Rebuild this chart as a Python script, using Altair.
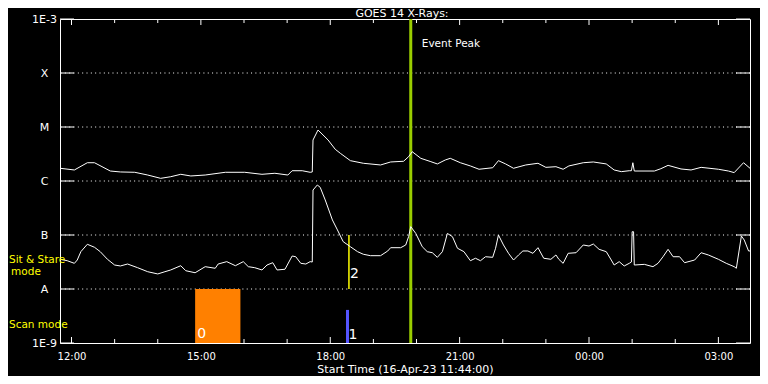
import altair as alt
import pandas as pd

# ---------------- data ----------------
start_time = "11:44"
end_time = "03:44"

long_times = ["11:44","12:04","12:22","12:32","12:54","13:08","13:28","13:46","14:04","14:18",
              "14:32","14:46","15:06","15:34","16:01","16:25","16:43","17:01","17:07","17:21",
              "17:32","17:35","17:36","17:43","17:57","18:07","18:14","18:28","18:46","19:10",
              "19:24","19:42","19:49","19:54","20:06","20:20","20:29","20:40","20:47","21:01",
              "21:15","21:27","21:46","21:54","22:04","22:15","22:32","22:49","23:00","23:14",
              "23:24","23:32","23:52","00:06","00:24","00:35","00:45","00:56","00:59","01:01",
              "01:03","01:31","01:40","01:50","02:08","02:22","02:36","03:00","03:14","03:22",
              "03:35","03:44"]
long_flux = [1.72e-6,1.60e-6,2.18e-6,2.18e-6,1.53e-6,1.47e-6,1.45e-6,1.29e-6,1.12e-6,1.20e-6,
             1.33e-6,1.24e-6,1.29e-6,1.45e-6,1.45e-6,1.33e-6,1.39e-6,1.29e-6,1.55e-6,1.55e-6,
             1.45e-6,1.47e-6,5.74e-6,8.80e-6,5.74e-6,3.86e-6,3.26e-6,2.38e-6,2.13e-6,1.98e-6,
             2.25e-6,2.32e-6,2.82e-6,3.49e-6,2.63e-6,2.28e-6,2.07e-6,2.45e-6,2.63e-6,2.18e-6,
             1.90e-6,1.65e-6,1.76e-6,2.38e-6,2.07e-6,1.72e-6,1.98e-6,2.13e-6,1.79e-6,1.84e-6,
             1.65e-6,1.90e-6,2.18e-6,2.25e-6,2.07e-6,1.60e-6,1.49e-6,1.55e-6,1.55e-6,2.18e-6,
             1.53e-6,1.53e-6,1.69e-6,1.95e-6,1.67e-6,1.60e-6,1.79e-6,1.65e-6,1.53e-6,1.43e-6,
             2.18e-6,1.72e-6]

short_times = ["11:44","11:54","12:04","12:08","12:13","12:22","12:32","12:40","12:50","13:00",
               "13:08","13:18","13:32","13:46","14:00","14:10","14:18","14:32","14:39","14:52",
               "15:06","15:20","15:24","15:36","15:48","15:59","16:06","16:15","16:25","16:32",
               "16:40","16:46","16:57","17:07","17:12","17:19","17:26","17:32","17:35","17:36",
               "17:42","17:46","17:53","18:03","18:10","18:18","18:28","18:38","18:46","18:56",
               "19:10","19:20","19:24","19:38","19:45","19:49","19:52","19:59","20:08","20:15",
               "20:22","20:29","20:36","20:43","20:50","20:57","21:06","21:15","21:22","21:29",
               "21:36","21:46","21:50","21:54","22:01","22:08","22:15","22:22","22:28","22:35",
               "22:42","22:49","22:57","23:07","23:14","23:18","23:24","23:31","23:42","23:52",
               "00:00","00:06","00:14","00:24","00:31","00:35","00:42","00:49","00:56","00:59",
               "01:00","01:02","01:03","01:17","01:29","01:36","01:43","01:50","01:57","02:06",
               "02:13","02:27","02:36","02:46","03:00","03:11","03:22","03:25","03:32","03:36",
               "03:42","03:44"]
short_flux = [3.55e-8,3.34e-8,2.99e-8,3.44e-8,4.91e-8,6.73e-8,5.92e-8,4.91e-8,3.55e-8,2.78e-8,
              2.67e-8,2.90e-8,2.48e-8,2.09e-8,1.90e-8,2.09e-8,2.25e-8,2.70e-8,2.18e-8,2.00e-8,
              2.59e-8,2.42e-8,2.90e-8,3.21e-8,2.70e-8,3.21e-8,2.59e-8,2.48e-8,2.25e-8,2.78e-8,
              3.07e-8,2.25e-8,2.32e-8,4.08e-8,3.96e-8,2.99e-8,2.90e-8,3.21e-8,3.16e-8,6.81e-7,
              8.43e-7,7.64e-7,4.45e-7,1.90e-7,1.24e-7,7.52e-8,6.07e-8,4.91e-8,4.40e-8,4.14e-8,
              4.14e-8,5.06e-8,5.82e-8,5.82e-8,6.53e-8,9.31e-8,1.43e-7,1.07e-7,6.07e-8,4.91e-8,
              4.70e-8,3.86e-8,4.91e-8,1.07e-7,9.31e-8,5.68e-8,4.91e-8,3.34e-8,3.71e-8,3.34e-8,
              3.96e-8,3.86e-8,5.68e-8,1.00e-7,6.53e-8,4.58e-8,3.44e-8,4.27e-8,5.06e-8,5.06e-8,
              4.58e-8,5.82e-8,3.71e-8,3.55e-8,4.27e-8,3.55e-8,2.99e-8,4.58e-8,4.70e-8,6.53e-8,
              6.25e-8,6.81e-8,5.43e-8,4.91e-8,3.44e-8,2.78e-8,3.21e-8,2.67e-8,2.99e-8,3.16e-8,
              1.15e-7,1.15e-7,2.78e-8,2.86e-8,2.59e-8,2.99e-8,3.96e-8,5.43e-8,3.96e-8,3.96e-8,
              3.07e-8,3.44e-8,4.70e-8,4.27e-8,3.55e-8,2.99e-8,2.59e-8,2.42e-8,9.57e-8,8.07e-8,
              5.06e-8,5.06e-8]

level_values = [1e-3, 1e-4, 1e-5, 1e-6, 1e-7, 1e-8, 1e-9]
level_labels = ["1E-3", "X", "M", "C", "B", "A", "1E-9"]
grid_levels = [1e-4, 1e-5, 1e-6, 1e-7, 1e-8]

major_hours = [12, 15, 18, 21, 24, 27]
minor_hours = [13, 14, 16, 17, 19, 20, 22, 23, 25, 26]

event_peak_time = "19:52"
scan0_start, scan0_end = "14:52", "15:55"
scan0_lo, scan0_hi = 1e-9, 1e-8
scan1_time = "18:24"
scan1_lo, scan1_hi = 1e-9, 4.1e-9
stare2_time = "18:26"
stare2_lo, stare2_hi = 1e-8, 1e-7

title_text = "GOES 14 X-Rays:"
x_title = "Start Time (16-Apr-23 11:44:00)"

# ---------------- helpers ----------------
def to_hours(s):
    h, m = (int(p) for p in s.split(":"))
    v = h + m / 60.0
    return v + 24 if v < 11 else v

W, H = 690, 324
FONT = "DejaVu Sans"
ORANGE = "#ff8000"
GREEN = "#9acd00"
BLUE = "#5555ff"
YELLOW = "#ffff00"

xscale = alt.Scale(domain=[to_hours(start_time), to_hours(end_time)], nice=False, zero=False)
yscale = alt.Scale(type="log", domain=[1e-9, 1e-3], nice=False)

ylab_expr = ""
for v, lab in zip(level_values[:-1], level_labels[:-1]):
    ylab_expr += f"datum.value > {v * 0.5:.12f} ? '{lab}' : "
ylab_expr += f"'{level_labels[-1]}'"

xaxis = alt.Axis(values=major_hours,
                 labelExpr="(datum.value % 24 < 10 ? '0' : '') + (datum.value % 24) + ':00'",
                 ticks=False, tickSize=0, domain=False, grid=False,
                 labelColor="white", labelFont=FONT, labelFontSize=10, labelPadding=8,
                 labelFlush=False, title=x_title, titleColor="white", titleFont=FONT,
                 titleFontSize=11, titleFontWeight="normal", titlePadding=2)
yaxis = alt.Axis(values=level_values, labelExpr=ylab_expr,
                 ticks=False, tickSize=0, domain=False, grid=False,
                 labelColor="white", labelFont=FONT, labelFontSize=11, labelAlign="center",
                 labelBaseline="middle", labelPadding=16, labelFlush=False,
                 labelOverlap=False, title=None)

def X(f):
    return alt.X(f, type="quantitative", scale=xscale, axis=xaxis)

def Y(f):
    return alt.Y(f, type="quantitative", scale=yscale, axis=yaxis)

# ---------------- tables ----------------
curves = pd.concat([
    pd.DataFrame({"h": [to_hours(t) for t in long_times], "flux": long_flux, "ch": "long"}),
    pd.DataFrame({"h": [to_hours(t) for t in short_times], "flux": short_flux, "ch": "short"}),
])
levels_df = pd.DataFrame({"v": level_values})
grid_df = pd.DataFrame({"v": grid_levels})
major_df = pd.DataFrame({"h": major_hours})
minor_df = pd.DataFrame({"h": minor_hours})
event_df = pd.DataFrame({"h": [to_hours(event_peak_time)], "t": ["Event Peak"]})
scan0_df = pd.DataFrame({"s": [to_hours(scan0_start)], "e": [to_hours(scan0_end)],
                         "lo": [scan0_lo], "hi": [scan0_hi], "t": ["0"]})
scan1_df = pd.DataFrame({"h": [to_hours(scan1_time)], "lo": [scan1_lo], "hi": [scan1_hi], "t": ["1"]})
stare2_df = pd.DataFrame({"h": [to_hours(stare2_time)], "lo": [stare2_lo], "hi": [stare2_hi], "t": ["2"]})
one = pd.DataFrame({"a": [0]})

# ---------------- layers ----------------
grid = alt.Chart(grid_df).mark_rule(color="white", strokeWidth=1, strokeDash=[1, 3.33]).encode(y=Y("v"))
yt_left = alt.Chart(levels_df).mark_rule(color="white", strokeWidth=1).encode(
    y=Y("v"), x=alt.value(0), x2=alt.value(14))
yt_right = alt.Chart(levels_df).mark_rule(color="white", strokeWidth=1).encode(
    y=Y("v"), x=alt.value(W - 14), x2=alt.value(W))

def xticks(df, length):
    bot = alt.Chart(df).mark_rule(color="white", strokeWidth=1).encode(
        x=X("h"), y=alt.value(H), y2=alt.value(H - length))
    top = alt.Chart(df).mark_rule(color="white", strokeWidth=1).encode(
        x=X("h"), y=alt.value(0), y2=alt.value(length))
    return [bot, top]

rect0 = alt.Chart(scan0_df).mark_rect(color=ORANGE).encode(
    x=X("s"), x2="e", y=Y("lo"), y2="hi")
rect0_lab = alt.Chart(scan0_df).mark_text(align="left", baseline="alphabetic", dx=2, color="white",
                                          font=FONT, fontSize=14).encode(
    x=X("s"), y=alt.value(319), text="t:N")
blue = alt.Chart(scan1_df).mark_rule(color=BLUE, strokeWidth=3).encode(
    x=X("h"), y=Y("lo"), y2="hi")
blue_lab = alt.Chart(scan1_df).mark_text(align="left", baseline="alphabetic", dx=1, color="white",
                                         font=FONT, fontSize=14).encode(
    x=X("h"), y=alt.value(320), text="t:N")
yel = alt.Chart(stare2_df).mark_rule(color=YELLOW, strokeWidth=1.5).encode(
    x=X("h"), y=Y("lo"), y2="hi")
yel_lab = alt.Chart(stare2_df).mark_text(align="left", baseline="alphabetic", dx=1, color="white",
                                         font=FONT, fontSize=14).encode(
    x=X("h"), y=alt.value(259), text="t:N")
event = alt.Chart(event_df).mark_rule(color=GREEN, strokeWidth=3).encode(x=X("h"))
event_lab = alt.Chart(event_df).mark_text(align="left", baseline="alphabetic", dx=11, color="white",
                                          font=FONT, fontSize=10.5).encode(
    x=X("h"), y=alt.value(27.5), text="t:N")
lines = alt.Chart(curves).mark_line(color="white", strokeWidth=1, clip=True).encode(
    x=X("h"), y=Y("flux"), detail="ch:N")

def free_text(txt, x, y, align="left", color=YELLOW, size=11):
    return alt.Chart(one).mark_text(align=align, baseline="alphabetic", color=color,
                                    font=FONT, fontSize=size).encode(
        x=alt.value(x), y=alt.value(y), text=alt.value(txt))

sit = free_text("Sit & Stare", -51, 244, size=10.5)
mode = free_text("mode", -34, 256, align="center", size=10.5)
scan = free_text("Scan mode", -51, 309, size=10.5)
title = free_text(title_text, W / 2 - 3, -2, align="center", color="white", size=11)

layers = [grid, yt_left, yt_right] + xticks(major_df, 6) + xticks(minor_df, 4) + [
    rect0, blue, yel, event, lines, rect0_lab, blue_lab, yel_lab, event_lab, sit, mode, scan, title]

chart = alt.layer(*layers).properties(
    width=W, height=H,
    autosize=alt.AutoSizeParams(type="none"),
    padding={"left": 52, "top": 11, "right": 10, "bottom": 33},
).configure(background="black").configure_view(stroke="white", strokeWidth=1)

chart.save("out.html", embed_options={"renderer": "svg", "actions": False})
